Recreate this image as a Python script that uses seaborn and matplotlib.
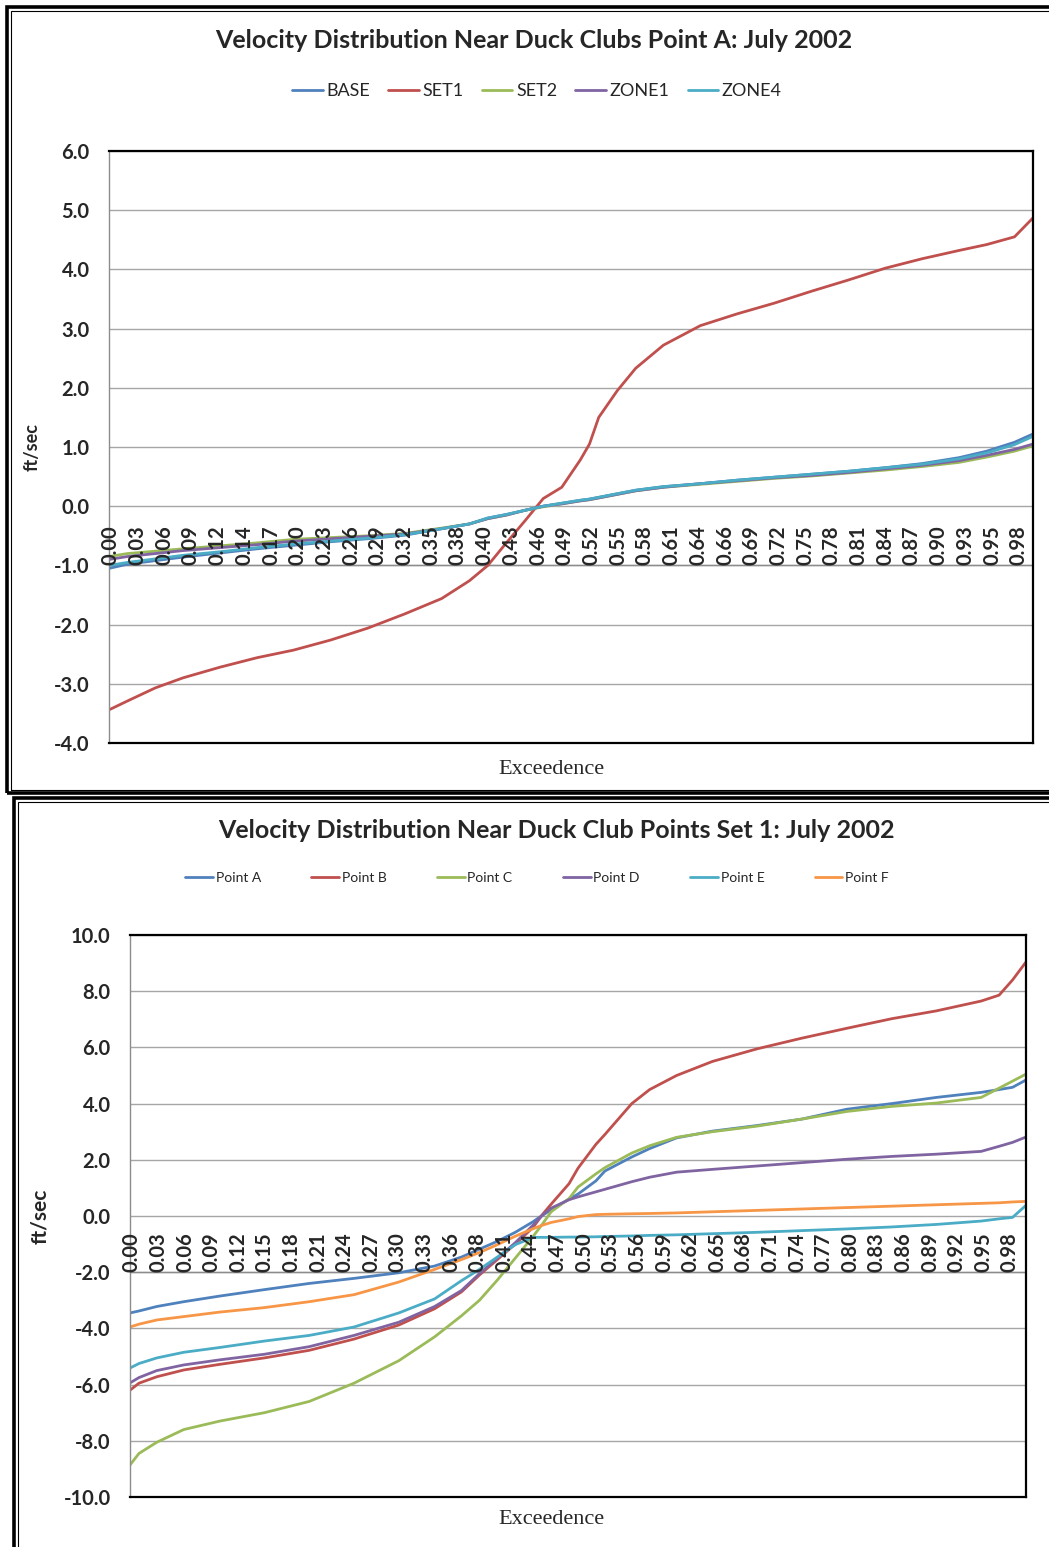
import numpy as np
import pandas as pd
import matplotlib
matplotlib.use("Agg")
import matplotlib.pyplot as plt
from matplotlib.patches import Rectangle
import seaborn as sns

# ---- data ----
top_series = ["BASE", "SET1", "SET2", "ZONE1", "ZONE4"]
top_x = [0.0, 0.02, 0.05, 0.08, 0.12, 0.16, 0.20, 0.24, 0.28, 0.32, 0.36, 0.39,
         0.41, 0.43, 0.45, 0.47, 0.49, 0.51, 0.52, 0.53, 0.55, 0.57, 0.60, 0.64,
         0.68, 0.72, 0.76, 0.80, 0.84, 0.88, 0.92, 0.95, 0.98, 1.0]
base = [-1.05, -0.98, -0.92, -0.86, -0.79, -0.72, -0.66, -0.60, -0.55, -0.49, -0.38, -0.30,
        -0.20, -0.14, -0.07, 0.00, 0.05, 0.10, 0.12, 0.15, 0.21, 0.27, 0.33, 0.38,
        0.44, 0.49, 0.54, 0.59, 0.65, 0.72, 0.82, 0.93, 1.08, 1.22]
set1 = [-3.44, -3.29, -3.07, -2.90, -2.72, -2.56, -2.43, -2.26, -2.06, -1.82, -1.56, -1.26,
        -1.00, -0.62, -0.25, 0.13, 0.32, 0.78, 1.05, 1.50, 1.95, 2.33, 2.72, 3.05,
        3.25, 3.43, 3.63, 3.82, 4.02, 4.18, 4.32, 4.42, 4.55, 4.87]
set2 = [-0.85, -0.80, -0.76, -0.72, -0.67, -0.62, -0.56, -0.53, -0.50, -0.46, -0.37, -0.30,
        -0.21, -0.15, -0.07, -0.01, 0.04, 0.09, 0.11, 0.14, 0.20, 0.26, 0.32, 0.37,
        0.42, 0.47, 0.51, 0.56, 0.61, 0.67, 0.74, 0.83, 0.93, 1.02]
zone1 = [-0.90, -0.85, -0.80, -0.75, -0.70, -0.65, -0.59, -0.55, -0.51, -0.47, -0.38, -0.30,
         -0.21, -0.15, -0.07, 0.00, 0.04, 0.09, 0.11, 0.14, 0.20, 0.26, 0.32, 0.38,
         0.43, 0.48, 0.52, 0.57, 0.63, 0.69, 0.77, 0.86, 0.96, 1.05]
zone4 = [-1.00, -0.95, -0.89, -0.83, -0.77, -0.70, -0.64, -0.59, -0.54, -0.48, -0.38, -0.30,
         -0.20, -0.14, -0.07, 0.00, 0.05, 0.10, 0.12, 0.15, 0.21, 0.27, 0.33, 0.38,
         0.44, 0.49, 0.54, 0.59, 0.65, 0.71, 0.80, 0.90, 1.04, 1.18]
top_ticklabels = ["0.00", "0.03", "0.06", "0.09", "0.12", "0.14", "0.17", "0.20", "0.23",
                  "0.26", "0.29", "0.32", "0.35", "0.38", "0.40", "0.43", "0.46", "0.49",
                  "0.52", "0.55", "0.58", "0.61", "0.64", "0.66", "0.69", "0.72", "0.75",
                  "0.78", "0.81", "0.84", "0.87", "0.90", "0.93", "0.95", "0.98"]

bot_series = ["Point A", "Point B", "Point C", "Point D", "Point E", "Point F"]
bot_x = [0.0, 0.01, 0.03, 0.06, 0.10, 0.15, 0.20, 0.25, 0.30, 0.34, 0.37, 0.39, 0.41,
         0.43, 0.45, 0.46, 0.47, 0.49, 0.50, 0.52, 0.53, 0.56, 0.58, 0.61, 0.65, 0.70,
         0.75, 0.80, 0.85, 0.90, 0.95, 0.97, 0.985, 1.0]
point_a = [-3.45, -3.38, -3.22, -3.05, -2.85, -2.62, -2.40, -2.22, -2.02, -1.78, -1.46, -1.18, -0.90,
           -0.58, -0.20, 0.02, 0.22, 0.60, 0.78, 1.25, 1.60, 2.10, 2.40, 2.78, 3.02, 3.22,
           3.45, 3.80, 4.00, 4.22, 4.40, 4.50, 4.58, 4.84]
point_b = [-6.20, -5.95, -5.72, -5.48, -5.28, -5.05, -4.78, -4.38, -3.88, -3.30, -2.70, -2.10, -1.55,
           -1.00, -0.40, 0.04, 0.42, 1.15, 1.70, 2.55, 2.90, 4.00, 4.50, 5.00, 5.50, 5.95,
           6.33, 6.68, 7.02, 7.30, 7.65, 7.86, 8.40, 9.04]
point_c = [-8.86, -8.45, -8.05, -7.60, -7.30, -7.00, -6.60, -5.95, -5.15, -4.30, -3.55, -3.00, -2.28,
           -1.50, -0.72, -0.30, 0.15, 0.62, 1.03, 1.50, 1.72, 2.24, 2.50, 2.80, 3.00, 3.20,
           3.45, 3.72, 3.90, 4.02, 4.22, 4.55, 4.80, 5.05]
point_d = [-5.94, -5.75, -5.50, -5.30, -5.12, -4.92, -4.65, -4.25, -3.78, -3.22, -2.65, -2.05, -1.50,
           -0.95, -0.32, 0.02, 0.28, 0.58, 0.68, 0.86, 0.95, 1.22, 1.38, 1.56, 1.66, 1.78,
           1.90, 2.02, 2.12, 2.20, 2.30, 2.48, 2.62, 2.81]
point_e = [-5.41, -5.25, -5.05, -4.85, -4.68, -4.45, -4.25, -3.95, -3.45, -2.95, -2.30, -1.90, -1.46,
           -1.02, -0.76, -0.76, -0.76, -0.75, -0.75, -0.74, -0.73, -0.71, -0.69, -0.67, -0.63, -0.58,
           -0.52, -0.46, -0.39, -0.30, -0.18, -0.10, -0.05, 0.38]
point_f = [-3.95, -3.85, -3.70, -3.58, -3.42, -3.26, -3.05, -2.80, -2.35, -1.90, -1.55, -1.30, -1.02,
           -0.72, -0.45, -0.33, -0.23, -0.10, -0.02, 0.05, 0.06, 0.08, 0.09, 0.11, 0.15, 0.20,
           0.25, 0.30, 0.35, 0.40, 0.45, 0.47, 0.50, 0.52]
bot_ticklabels = ["0.00", "0.03", "0.06", "0.09", "0.12", "0.15", "0.18", "0.21", "0.24",
                  "0.27", "0.30", "0.33", "0.36", "0.38", "0.41", "0.44", "0.47", "0.50",
                  "0.53", "0.56", "0.59", "0.62", "0.65", "0.68", "0.71", "0.74", "0.77",
                  "0.80", "0.83", "0.86", "0.89", "0.92", "0.95", "0.98"]

top_colors = ["#4F81BD", "#C0504D", "#9BBB59", "#8064A2", "#4BACC6"]
bot_colors = ["#4F81BD", "#C0504D", "#9BBB59", "#8064A2", "#4BACC6", "#F79646"]

top_df = pd.DataFrame({"Exceedence": np.tile(top_x, 5),
                       "ft/sec": np.concatenate([base, set1, set2, zone1, zone4]),
                       "series": np.repeat(top_series, len(top_x))})
bot_df = pd.DataFrame({"Exceedence": np.tile(bot_x, 6),
                       "ft/sec": np.concatenate([point_a, point_b, point_c, point_d, point_e, point_f]),
                       "series": np.repeat(bot_series, len(bot_x))})

sns.set_theme(style="white")
plt.rcParams['font.family'] = ['Lato', 'DejaVu Sans']

W, H = 1049, 1547
fig = plt.figure(figsize=(W / 100, H / 100), dpi=100)


def fx(px):
    return px / W


def fy(py):
    return 1 - py / H


def frame(x0, y0, x1, y1):
    # double border like the Excel chart area
    fig.add_artist(Rectangle((fx(x0), fy(y1)), fx(x1 - x0), (y1 - y0) / H,
                             transform=fig.transFigure, fill=False, ec="black", lw=2.6))
    fig.add_artist(Rectangle((fx(x0 + 3.5), fy(y1 - 3.5)), fx(x1 - x0 - 7), (y1 - y0 - 7) / H,
                             transform=fig.transFigure, fill=False, ec="black", lw=0.8))


frame(7, 7, 1060, 793)
frame(14, 798, 1060, 1560)


def setup(ax, df, colors, ylim, ystep, xaxis_at, ticklabels, step, title, tpos, lpos,
          lfont, lspace, hlen, ylab_pos, ylab_size):
    sns.lineplot(data=df, x="Exceedence", y="ft/sec", hue="series", palette=colors,
                 linewidth=2.0, ax=ax, sort=False)
    ax.set_xlim(0, 1)
    ax.set_ylim(*ylim)
    ax.set_yticks(np.arange(ylim[0], ylim[1] + 0.01, ystep))
    ax.set_yticklabels([f"{v:.1f}" for v in ax.get_yticks()], fontsize=14.5, fontweight="bold")
    ax.tick_params(axis="y", length=0, pad=14)
    ax.set_xticks([])
    ax.set_xlabel("")
    ax.set_ylabel("")
    ax.grid(axis="y", color="#a6a6a6", lw=1.0)
    ax.axhline(xaxis_at, color="#8c8c8c", lw=1.0, zorder=1)
    for side in ["top", "right", "bottom"]:
        ax.spines[side].set_color("black")
        ax.spines[side].set_linewidth(1.6)
    ax.spines["left"].set_color("#8c8c8c")
    ax.spines["left"].set_linewidth(1.0)
    for i, lab in enumerate(ticklabels):
        ax.text(i * step + 0.002, xaxis_at, lab, rotation=90, ha="center", va="bottom",
                fontsize=14.5, fontweight="bold", zorder=5)
    fig.text(fx(tpos[0]), fy(tpos[1]), title, ha="center", va="center",
             fontsize=18, fontweight="bold")
    sns.move_legend(ax, "center", bbox_to_anchor=(fx(lpos[0]), fy(lpos[1])),
                    bbox_transform=fig.transFigure, ncol=len(colors), frameon=False,
                    title=None, fontsize=lfont, handlelength=hlen, handletextpad=0.2,
                    columnspacing=lspace)
    fig.text(fx(ylab_pos[0]), fy(ylab_pos[1]), "ft/sec", rotation=90, ha="center",
             va="center", fontsize=ylab_size, fontweight="bold")


ax1 = fig.add_axes([fx(109), fy(743), fx(1033 - 109), (743 - 151) / H])
setup(ax1, top_df, top_colors, (-4, 6), 1.0, -1.0, top_ticklabels, 0.0289,
      "Velocity Distribution Near Duck Clubs Point A: July 2002", (534, 40), (537, 91),
      13, 1.0, 1.7, (32, 447), 13)
fig.text(fx(551), fy(769), "Exceedence", ha="center", va="center", fontsize=16,
         family=["Liberation Serif"])

ax2 = fig.add_axes([fx(130), fy(1497), fx(1026 - 130), (1497 - 935) / H])
setup(ax2, bot_df, bot_colors, (-10, 10), 2.0, -2.0, bot_ticklabels, 0.0297,
      "Velocity Distribution Near Duck Club Points Set 1: July 2002", (556, 831), (537, 878),
      10, 3.62, 2.0, (40, 1216), 15)
fig.text(fx(551), fy(1519), "Exceedence", ha="center", va="center", fontsize=16,
         family=["Liberation Serif"])

fig.savefig("out.png", dpi=100)
